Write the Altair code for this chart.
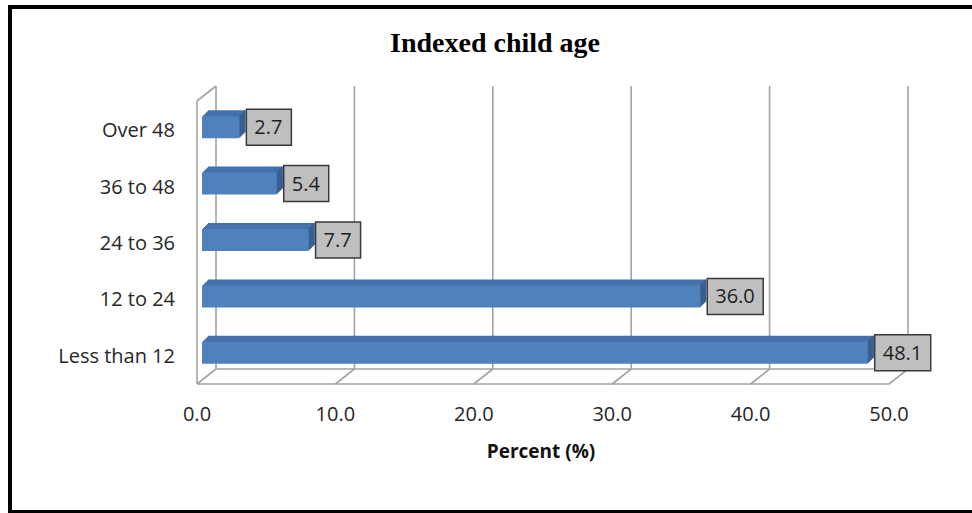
import altair as alt
import pandas as pd

# ---- data ----
categories = ["Over 48", "36 to 48", "24 to 36", "12 to 24", "Less than 12"]
values = [2.7, 5.4, 7.7, 36.0, 48.1]
value_labels = ["2.7", "5.4", "7.7", "36.0", "48.1"]
tick_values = [0, 10, 20, 30, 40, 50]
tick_labels = ["0.0", "10.0", "20.0", "30.0", "40.0", "50.0"]
title_text = "Indexed child age"
x_title = "Percent (%)"

bars = pd.DataFrame({"cat": categories, "val": values, "label": value_labels})
bars["zero"] = 0
bars["nch"] = bars["label"].str.len()
ticks = pd.DataFrame({"val": tick_values, "label": tick_labels})
span = pd.DataFrame({"val": [tick_values[0]], "val2": [tick_values[-1]]})
one = pd.DataFrame({"a": [0]})

FONT = "Open Sans"
FRONT = "#4F81BD"
TOP = "#4572AC"
END = "#365A8A"
GRID = "#A3A3A3"
DEPTH = 6

xscale = alt.Scale(domain=[0, 50], range=[197, 889], nice=False, zero=False)
yscale = alt.Scale(type="point", domain=categories, range=[99, 381], padding=0.5)
X = alt.X("val:Q", scale=xscale, axis=None)
Y = alt.Y("cat:N", scale=yscale, axis=None)

layers = []

# border (right side lies outside the picture, as in the reference)
layers.append(alt.Chart(one).mark_rect(fillOpacity=0, stroke="black", strokeWidth=4).encode(
    x=alt.value(10), x2=alt.value(1000), y=alt.value(7), y2=alt.value(512)))

# back wall gridlines
layers.append(alt.Chart(ticks).mark_rule(color=GRID, strokeWidth=1.6, xOffset=19).encode(
    x=X, y=alt.value(86), y2=alt.value(369)))
# floor diagonals
layers.append(alt.Chart(ticks).mark_rule(color=GRID, strokeWidth=1.6, x2Offset=19).encode(
    x=X, x2=alt.X2("val"), y=alt.value(384), y2=alt.value(369)))
# floor front and back edges
layers.append(alt.Chart(span).mark_rule(color=GRID, strokeWidth=1.6).encode(
    x=X, x2=alt.X2("val2"), y=alt.value(384)))
layers.append(alt.Chart(span).mark_rule(color=GRID, strokeWidth=1.6, xOffset=19, x2Offset=19).encode(
    x=X, x2=alt.X2("val2"), y=alt.value(369)))
# left wall
layers.append(alt.Chart(span).mark_rule(color=GRID, strokeWidth=1.6).encode(
    x=X, y=alt.value(101), y2=alt.value(384)))
layers.append(alt.Chart(span).mark_rule(color=GRID, strokeWidth=1.6, x2Offset=19).encode(
    x=X, x2=alt.X2("val"), y=alt.value(101), y2=alt.value(86)))

# 3D bars: top faces
for t in range(DEPTH, 0, -1):
    layers.append(alt.Chart(bars).mark_bar(size=22, color=TOP, xOffset=5 + t, x2Offset=5 + t,
                                           yOffset=-t).encode(x=X, x2=alt.X2("zero"), y=Y))
# end faces
for t in range(1, DEPTH + 1):
    layers.append(alt.Chart(bars).mark_bar(size=22, color=END, xOffset=5 + t - 1, x2Offset=5 + t,
                                           yOffset=-t).encode(x=X, x2=alt.X2("val"), y=Y))
# front faces
layers.append(alt.Chart(bars).mark_bar(size=22, color=FRONT, xOffset=5, x2Offset=5).encode(
    x=X, x2=alt.X2("zero"), y=Y))

# value label boxes
for n, w in [(3, 45), (4, 56)]:
    layers.append(alt.Chart(bars).transform_filter(f"datum.nch == {n}").mark_bar(
        size=36, fill="#BFBFBF", stroke="#3A3A3A", strokeWidth=1.5,
        xOffset=12, x2Offset=12 + w).encode(x=X, x2=alt.X2("val"), y=Y))
layers.append(alt.Chart(bars).mark_text(font=FONT, fontSize=20, align="left", baseline="middle",
                                        dx=20, dy=1, color="#1F1F1F").encode(
    x=X, y=Y, text="label:N"))

# category labels
layers.append(alt.Chart(bars).mark_text(font=FONT, fontSize=20, align="right", baseline="middle",
                                        dy=4, color="#262626").encode(
    x=alt.value(175), y=Y, text="cat:N"))

# x tick labels
layers.append(alt.Chart(ticks).mark_text(font=FONT, fontSize=20, align="center", baseline="middle",
                                         color="#262626").encode(
    x=X, y=alt.value(415), text="label:N"))

# x title
layers.append(alt.Chart(one).mark_text(font=FONT, fontSize=19, fontWeight="bold", align="center",
                                       baseline="middle", color="#111111", text=x_title).encode(
    x=alt.value(541), y=alt.value(452)))

# chart title
layers.append(alt.Chart(one).mark_text(font="Liberation Serif", fontSize=28, fontWeight="bold",
                                       align="center", baseline="alphabetic", color="#000000",
                                       text=title_text).encode(
    x=alt.value(495), y=alt.value(52)))

chart = alt.layer(*layers).properties(
    width=972, height=513,
    autosize=alt.AutoSizeParams(type="none"),
    padding=0,
    background="white",
).configure_view(stroke=None)

chart.save("out.html", embed_options={"renderer": "svg", "actions": False})
